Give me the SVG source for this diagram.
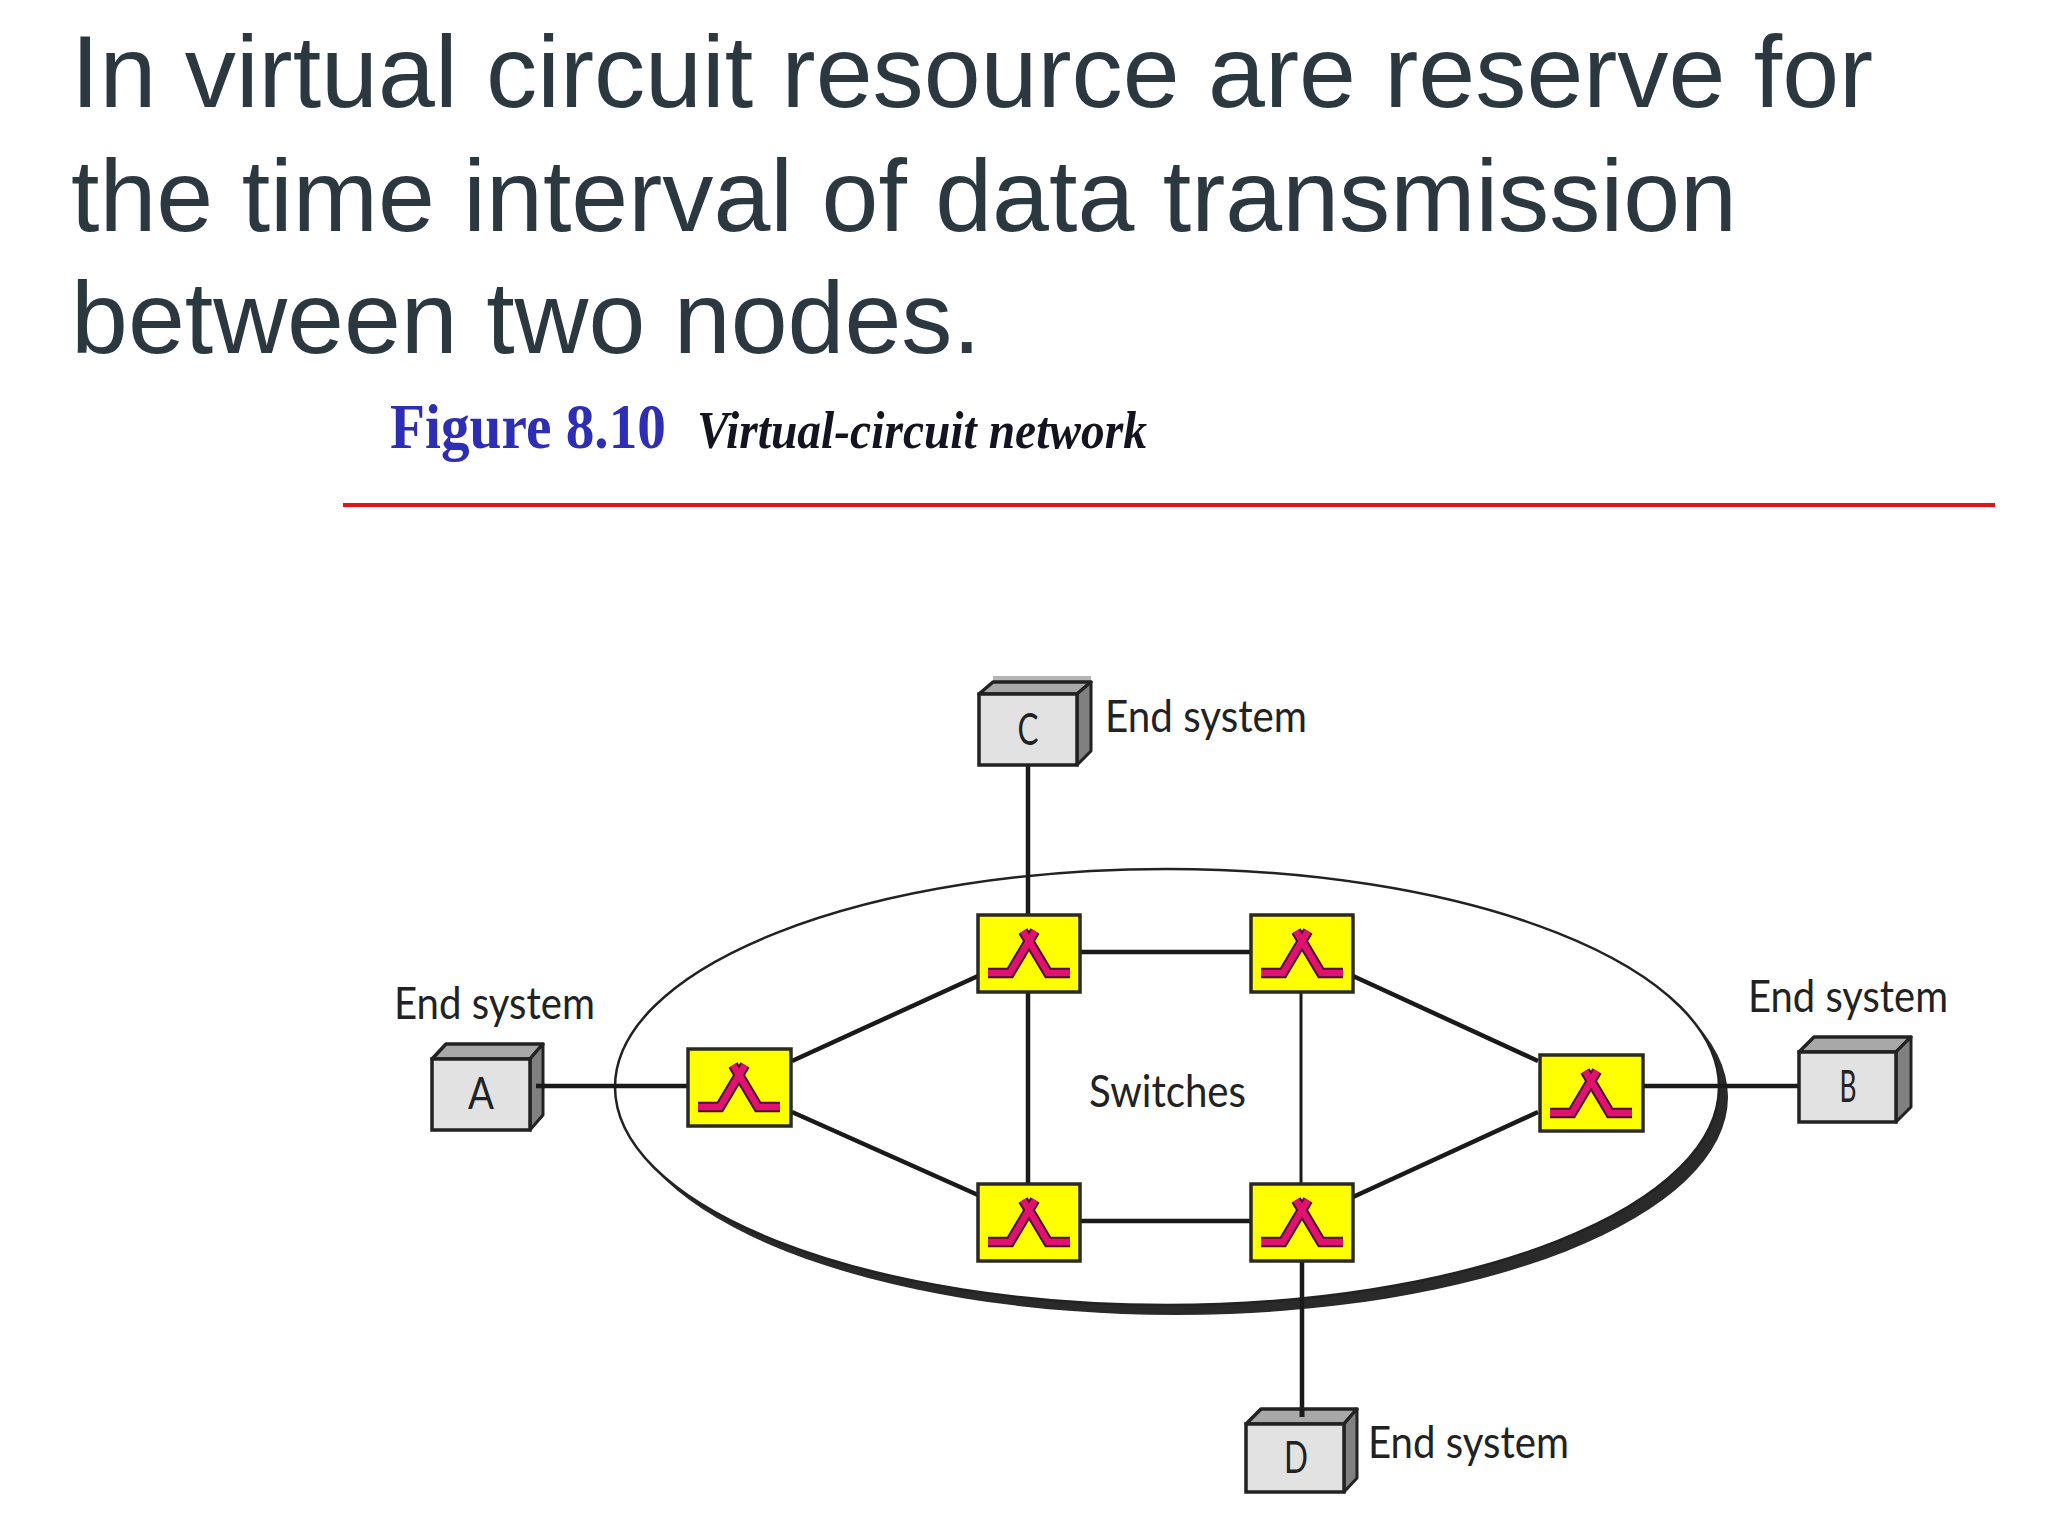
<svg xmlns="http://www.w3.org/2000/svg" xmlns:xlink="http://www.w3.org/1999/xlink" width="2048" height="1536" viewBox="0 0 2048 1536">
<style>
.title{font-family:"Liberation Sans",Arial,sans-serif;font-size:102.3px;fill:#2c3840}
.lab{font-family:"Lato","Noto Sans",sans-serif;font-size:44px;fill:#222}
.let{font-family:"Lato","Noto Sans",sans-serif;font-size:44px;fill:#222;text-anchor:middle}
.con{stroke:#1a1a1a;stroke-width:4.5;fill:none}
.sw{fill:#ffff00;stroke:#2a2a20;stroke-width:3.5}
.front{fill:#e2e2e2;stroke:#222;stroke-width:3.5}
.top{fill:#a8a8a8;stroke:#222;stroke-width:3.5;stroke-linejoin:round}
.side{fill:#808080;stroke:#222;stroke-width:3;stroke-linejoin:round}
</style>
<defs>
<g id="icon">
<path d="M11 59H33L58 17M93 59H71L46 17" fill="none" stroke="#4a1030" stroke-width="10.5"/>
<path d="M11 59H33L58 17M93 59H71L46 17" fill="none" stroke="#e0116f" stroke-width="6.5"/>
</g>
</defs>
<rect width="2048" height="1536" fill="#ffffff"/>
<g id="title">
<text class="title" x="71" y="107">In virtual circuit resource are reserve for</text>
<text class="title" x="71" y="231">the time interval of data transmission</text>
<text class="title" x="71" y="353">between two nodes.</text>
</g>
<g id="caption">
<text x="390" y="448" font-family="'Liberation Serif',serif" font-weight="bold" font-size="64" fill="#2e2eb4" textLength="276" lengthAdjust="spacingAndGlyphs">Figure 8.10</text>
<text x="697" y="448" font-family="'Liberation Serif',serif" font-weight="bold" font-style="italic" font-size="52" fill="#141420" textLength="450" lengthAdjust="spacingAndGlyphs">Virtual-circuit network</text>
<rect x="343" y="503" width="1652" height="4" fill="#e01414"/>
</g>
<g id="cloud">
<ellipse cx="1176" cy="1097" rx="552" ry="218" fill="#2a2a2a"/>
<ellipse cx="1167" cy="1087" rx="552" ry="218" fill="#ffffff" stroke="#222" stroke-width="2.5"/>
<text class="lab" x="1089" y="1107" textLength="157" lengthAdjust="spacingAndGlyphs">Switches</text>
</g>
<g id="connectors">
<path class="con" d="M536 1086H687"/>
<path class="con" d="M1643 1086H1799"/>
<path class="con" d="M1028 765V914"/>
<path class="con" d="M1302 1260V1417" stroke-width="5"/>
<path class="con" d="M792 1061L978 976"/>
<path class="con" d="M792 1112L978 1195"/>
<path class="con" d="M1080 952H1250"/>
<path class="con" d="M1080 1221H1250"/>
<path class="con" d="M1028 992V1184"/>
<path class="con" d="M1301 992V1184" style="stroke-width:3"/>
<path class="con" d="M1353 976L1538 1061"/>
<path class="con" d="M1353 1197L1538 1112"/>
</g>
<g id="sw1"><rect class="sw" x="688" y="1049" width="103" height="77"/><use xlink:href="#icon" href="#icon" x="687" y="1048"/></g>
<g id="sw2"><rect class="sw" x="978" y="915" width="102" height="77"/><use xlink:href="#icon" href="#icon" x="977" y="914"/></g>
<g id="sw3"><rect class="sw" x="1251" y="915" width="102" height="77"/><use xlink:href="#icon" href="#icon" x="1250" y="914"/></g>
<g id="sw4"><rect class="sw" x="978" y="1184" width="102" height="77"/><use xlink:href="#icon" href="#icon" x="977" y="1183"/></g>
<g id="sw5"><rect class="sw" x="1251" y="1184" width="102" height="77"/><use xlink:href="#icon" href="#icon" x="1250" y="1183"/></g>
<g id="sw6"><rect class="sw" x="1540" y="1055" width="103" height="76"/><use xlink:href="#icon" href="#icon" x="1539" y="1054"/></g>
<g id="nodeA">
<path class="top" d="M432 1059L446 1044H543L530 1059Z"/>
<path class="side" d="M530 1059L543 1044V1115L530 1130Z"/>
<rect class="front" x="432" y="1059" width="98" height="71"/>
<path class="con" d="M536 1086H545"/>
<text class="let" x="481" y="1109" textLength="26" lengthAdjust="spacingAndGlyphs">A</text>
<text class="lab" x="394" y="1019" textLength="201" lengthAdjust="spacingAndGlyphs">End system</text>
</g>
<g id="nodeB">
<path class="top" d="M1799 1052L1814 1037H1911L1896 1052Z"/>
<path class="side" d="M1896 1052L1911 1037V1107L1896 1122Z"/>
<rect class="front" x="1799" y="1052" width="97" height="70"/>
<text class="let" x="1848" y="1102" textLength="17" lengthAdjust="spacingAndGlyphs">B</text>
<text class="lab" x="1748" y="1012" textLength="200" lengthAdjust="spacingAndGlyphs">End system</text>
</g>
<g id="nodeC">
<rect x="993" y="676" width="98" height="8" fill="#b4b4b4"/>
<path class="top" d="M979 694L993 682H1091L1077 694Z"/>
<path class="side" d="M1077 694L1091 682V751L1077 765Z"/>
<rect class="front" x="979" y="694" width="98" height="71"/>
<text class="let" x="1028" y="745" textLength="21" lengthAdjust="spacingAndGlyphs">C</text>
<text class="lab" x="1105" y="732" textLength="202" lengthAdjust="spacingAndGlyphs">End system</text>
</g>
<g id="nodeD">
<path class="top" d="M1246 1424L1261 1409H1357L1344 1424Z"/>
<path class="side" d="M1344 1424L1357 1409V1478L1344 1492Z"/>
<rect class="front" x="1246" y="1424" width="98" height="68"/>
<path class="con" d="M1302 1409V1417" style="stroke-width:5"/>
<text class="let" x="1296" y="1473" textLength="24" lengthAdjust="spacingAndGlyphs">D</text>
<text class="lab" x="1368" y="1458" textLength="201" lengthAdjust="spacingAndGlyphs">End system</text>
</g>
</svg>
